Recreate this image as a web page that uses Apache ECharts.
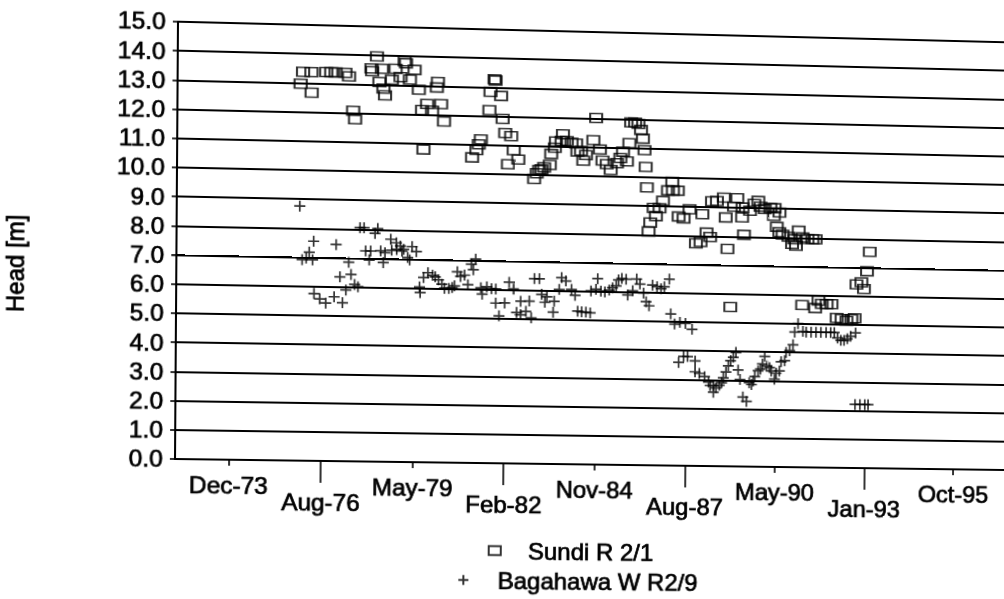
<!DOCTYPE html>
<html>
<head>
<meta charset="utf-8">
<script src="https://cdn.jsdelivr.net/npm/echarts@6/dist/echarts.min.js"></script>
<style>
  html, body { margin: 0; padding: 0; background: #fff; }
  #main { width: 1004px; height: 599px; transform-origin: 0 0; }
</style>
</head>
<body>
<div id="main"></div>
<script>
// Observation dates (decimal years) and heads [m] for well Sundi R 2/1
const sundiYear = [
  1975.98, 1976.05, 1976.30, 1976.31, 1976.74, 1976.89, 1977.02, 1977.31, 1977.42, 1977.55,
  1977.61, 1978.09, 1978.11, 1978.25, 1978.33, 1978.40, 1978.45, 1978.50, 1978.70, 1978.81,
  1978.96, 1979.08, 1979.12, 1979.24, 1979.38, 1979.51, 1979.61, 1979.66, 1979.76, 1979.91,
  1980.05, 1980.08, 1980.18, 1980.27, 1981.12, 1981.25, 1981.32, 1981.38, 1981.63, 1981.66,
  1981.78, 1981.81, 1981.98, 1982.03, 1982.11, 1982.20, 1982.29, 1982.37, 1982.51, 1982.99,
  1983.07, 1983.14, 1983.21, 1983.29, 1983.46, 1983.50, 1983.61, 1983.64, 1983.81, 1983.85,
  1983.97, 1984.11, 1984.25, 1984.29, 1984.40, 1984.47, 1984.55, 1984.77, 1984.85, 1984.97,
  1985.05, 1985.18, 1985.30, 1985.49, 1985.59, 1985.67, 1985.79, 1985.86, 1985.91, 1986.03,
  1986.13, 1986.21, 1986.27, 1986.32, 1986.36, 1986.40, 1986.46, 1986.51, 1986.61, 1986.68,
  1986.79, 1986.89, 1987.04, 1987.17, 1987.19, 1987.34, 1987.37, 1987.52, 1987.70, 1987.90,
  1988.04, 1988.09, 1988.22, 1988.33, 1988.38, 1988.53, 1988.74, 1988.80, 1988.86, 1988.96,
  1989.05, 1989.15, 1989.30, 1989.31, 1989.36, 1989.54, 1989.67, 1989.79, 1989.86, 1989.99,
  1990.16, 1990.27, 1990.29, 1990.36, 1990.44, 1990.44, 1990.54, 1990.72, 1990.83, 1990.90,
  1990.95, 1991.03, 1991.15, 1991.15, 1991.30, 1991.45, 1991.55, 1991.55, 1991.65, 1991.75,
  1991.90, 1992.05, 1992.21, 1992.36, 1992.51, 1992.66, 1992.76, 1992.81, 1992.96, 1993.04,
  1993.13, 1993.21
];
const sundiHead = [
  12.97, 13.38, 13.38, 12.67, 13.39, 13.39, 13.39, 13.38, 13.26, 12.08,
  11.79, 13.55, 13.46, 13.97, 13.09, 13.55, 12.87, 12.64, 13.18, 13.56,
  13.28, 13.83, 13.76, 13.20, 13.54, 12.86, 12.16, 10.80, 12.37, 12.15,
  12.95, 13.14, 12.38, 11.78, 10.56, 10.82, 11.02, 11.19, 12.21, 12.84,
  13.28, 13.24, 12.71, 11.92, 11.43, 10.35, 11.33, 10.84, 10.52, 9.86,
  10.06, 10.17, 10.20, 10.27, 10.36, 10.74, 10.96, 11.17, 11.20, 11.43,
  11.20, 11.15, 11.12, 10.84, 10.87, 10.53, 10.73, 11.25, 12.02, 10.93,
  10.55, 10.43, 10.23, 10.47, 10.65, 10.87, 10.54, 11.17, 11.89, 11.89,
  11.85, 11.64, 11.34, 10.94, 10.36, 9.65, 8.12, 8.43, 8.94, 8.66,
  8.94, 9.19, 9.56, 9.86, 9.56, 9.56, 8.66, 8.60, 8.92, 7.74,
  7.79, 8.76, 8.12, 7.97, 9.21, 9.23, 9.35, 8.66, 7.57, 5.55,
  9.04, 9.34, 8.67, 9.02, 8.07, 8.91, 9.15, 9.26, 9.06, 8.98,
  9.02, 8.75, 9.02, 8.37, 8.87, 8.18, 8.10, 8.03, 7.78, 7.95,
  7.72, 8.25, 8.02, 5.66, 7.96, 7.96, 7.96, 5.56, 5.82, 5.71,
  5.71, 5.71, 5.23, 5.20, 5.14, 5.20, 5.23, 6.41, 6.49, 6.26,
  6.88, 7.56
];

// Observation dates (decimal years) and heads [m] for well Bagahawa W R2/9
const bagaYear = [
  1975.98, 1976.06, 1976.18, 1976.27, 1976.37, 1976.40, 1976.42, 1976.59, 1976.77, 1977.02,
  1977.07, 1977.19, 1977.27, 1977.37, 1977.45, 1977.52, 1977.63, 1977.73, 1977.78, 1977.90,
  1977.95, 1978.06, 1978.10, 1978.23, 1978.31, 1978.40, 1978.48, 1978.53, 1978.70, 1978.73,
  1978.87, 1978.88, 1978.99, 1979.04, 1979.09, 1979.21, 1979.27, 1979.34, 1979.47, 1979.57,
  1979.59, 1979.69, 1979.82, 1979.96, 1980.04, 1980.14, 1980.24, 1980.32, 1980.45, 1980.55,
  1980.62, 1980.70, 1980.80, 1980.92, 1981.02, 1981.12, 1981.18, 1981.25, 1981.41, 1981.45,
  1981.59, 1981.73, 1981.86, 1981.86, 1981.96, 1982.13, 1982.26, 1982.39, 1982.49, 1982.61,
  1982.61, 1982.77, 1982.87, 1982.93, 1983.02, 1983.17, 1983.24, 1983.34, 1983.40, 1983.59,
  1983.62, 1983.77, 1983.84, 1983.97, 1984.14, 1984.25, 1984.33, 1984.45, 1984.58, 1984.71,
  1984.73, 1984.88, 1984.93, 1985.03, 1985.15, 1985.28, 1985.38, 1985.49, 1985.56, 1985.66,
  1985.79, 1985.84, 1985.99, 1986.11, 1986.21, 1986.32, 1986.40, 1986.49, 1986.59, 1986.73,
  1986.85, 1986.95, 1987.10, 1987.15, 1987.27, 1987.40, 1987.43, 1987.55, 1987.60, 1987.67,
  1987.80, 1987.90, 1987.90, 1988.03, 1988.19, 1988.31, 1988.36, 1988.46, 1988.46, 1988.54,
  1988.64, 1988.71, 1988.76, 1988.84, 1988.91, 1988.98, 1989.06, 1989.14, 1989.21, 1989.27,
  1989.36, 1989.47, 1989.55, 1989.62, 1989.67, 1989.72, 1989.82, 1989.89, 1989.95, 1990.02,
  1990.09, 1990.17, 1990.22, 1990.32, 1990.37, 1990.47, 1990.52, 1990.63, 1990.67, 1990.78,
  1990.88, 1990.93, 1991.03, 1991.18, 1991.28, 1991.43, 1991.58, 1991.73, 1991.89, 1992.03,
  1992.14, 1992.24, 1992.34, 1992.44, 1992.54, 1992.64, 1992.79, 1992.79, 1992.94, 1993.09,
  1993.19
];
const bagaHead = [
  8.76, 6.92, 6.98, 7.18, 6.92, 7.56, 5.76, 5.58, 5.44, 5.66,
  7.46, 6.35, 5.46, 5.90, 6.86, 6.44, 6.10, 6.02, 8.06, 8.06,
  7.26, 6.95, 7.26, 7.87, 8.04, 7.27, 6.87, 7.21, 7.68, 7.30,
  7.56, 7.33, 7.45, 7.28, 7.34, 7.06, 6.98, 7.44, 7.27, 6.05,
  5.86, 6.38, 6.55, 6.46, 6.41, 6.31, 6.16, 6.02, 6.02, 6.05,
  6.11, 6.60, 6.44, 6.49, 6.16, 6.87, 6.68, 7.05, 6.06, 5.84,
  6.10, 6.04, 6.03, 5.54, 5.10, 5.55, 6.27, 6.04, 5.23, 5.15,
  5.62, 5.27, 5.63, 5.05, 6.41, 6.41, 5.87, 5.60, 5.79, 5.26,
  5.64, 6.05, 6.46, 6.35, 6.06, 5.86, 5.31, 5.29, 5.28, 5.26,
  6.02, 6.08, 6.45, 6.02, 5.99, 6.06, 6.14, 6.21, 6.42, 6.47,
  6.45, 5.90, 6.05, 6.46, 6.29, 5.98, 5.68, 5.54, 6.26, 6.21,
  6.14, 6.21, 6.48, 5.27, 4.92, 3.59, 4.98, 3.80, 4.95, 3.80,
  4.75, 3.65, 3.27, 3.22, 3.11, 2.92, 2.80, 2.80, 2.57, 2.73,
  2.82, 2.91, 3.08, 3.28, 3.50, 3.68, 3.80, 3.97, 3.36, 3.03,
  2.42, 2.27, 2.92, 2.86, 2.98, 3.14, 3.34, 3.40, 3.58, 3.85,
  3.52, 3.46, 3.34, 3.06, 3.27, 3.35, 3.67, 3.71, 4.00, 4.06,
  4.27, 4.71, 5.01, 4.74, 4.72, 4.72, 4.72, 4.72, 4.72, 4.72,
  4.72, 4.53, 4.45, 4.45, 4.51, 4.60, 4.72, 2.22, 2.22, 2.22,
  2.22
];

// Date axis: ticks every 1000 days
const tickDates = ['1973-12-02', '1976-08-28', '1979-05-25', '1982-02-18', '1984-11-14',
                   '1987-08-11', '1990-05-07', '1993-01-31', '1995-10-28'];
const tickLabels = ['Dec-73', 'Aug-76', 'May-79', 'Feb-82', 'Nov-84',
                    'Aug-87', 'May-90', 'Jan-93', 'Oct-95'];

const SERIES_NAMES = ['Sundi R 2/1', 'Bagahawa W R2/9'];
const FONT = 'Liberation Sans, Arial, Helvetica, sans-serif';
const INK = '#000';

function decYear(s) {
  const [y, m, d] = s.split('-').map(Number);
  const t0 = Date.UTC(y, 0, 1), t1 = Date.UTC(y + 1, 0, 1);
  return y + (Date.UTC(y, m - 1, d) - t0) / (t1 - t0);
}
const tickYears = tickDates.map(decYear);
const upperTicks = tickYears.filter((_, i) => i % 2 === 0);
const lowerTicks = tickYears.filter((_, i) => i % 2 === 1);
function labelFor(v) {
  let best = 0;
  tickYears.forEach((t, i) => { if (Math.abs(t - v) < Math.abs(tickYears[best] - v)) best = i; });
  return tickLabels[best];
}

// the date axis runs off the right edge of the page
const X_MIN = 1972.33, X_MAX = 1997.39;

const labelStyle = {
  fontSize: 24, color: INK, fontFamily: FONT,
  textBorderColor: INK, textBorderWidth: 0.7
};
const axisLine = { show: true, lineStyle: { color: INK, width: 2 } };
const tickLine = { color: INK, width: 1.6 };

const option = {
  animation: false,
  backgroundColor: '#fff',
  textStyle: { fontFamily: FONT },
  grid: { left: 175, top: 22, right: 0, height: 438, containLabel: false },
  xAxis: [
    {
      type: 'value', min: X_MIN, max: X_MAX, position: 'bottom',
      axisLine: axisLine,
      splitLine: { show: false },
      axisTick: { show: true, customValues: upperTicks, length: 6, lineStyle: tickLine },
      axisLabel: Object.assign({ customValues: upperTicks, margin: 14, formatter: labelFor }, labelStyle)
    },
    {
      type: 'value', min: X_MIN, max: X_MAX, position: 'bottom',
      axisLine: { show: false },
      splitLine: { show: false },
      axisTick: { show: true, customValues: lowerTicks, length: 22, lineStyle: tickLine },
      axisLabel: Object.assign({ customValues: lowerTicks, margin: 30, formatter: labelFor }, labelStyle)
    }
  ],
  yAxis: {
    type: 'value', min: 0, max: 15, interval: 1,
    axisLine: axisLine,
    axisTick: { show: true, length: 5, lineStyle: tickLine },
    axisLabel: Object.assign({ margin: 12, formatter: v => v.toFixed(1) }, labelStyle),
    splitLine: { show: true, lineStyle: { color: INK, width: 2 } }
  },
  legend: [
    {
      data: [SERIES_NAMES[0]], orient: 'vertical', left: 484, top: 536, padding: 0,
      itemWidth: 12, itemHeight: 9,
      textStyle: Object.assign({ padding: [0, 0, 0, 22] }, labelStyle)
    },
    {
      data: [SERIES_NAMES[1]], orient: 'vertical', left: 454, top: 566, padding: 0,
      itemWidth: 10, itemHeight: 10,
      textStyle: Object.assign({ padding: [0, 0, 0, 24] }, labelStyle)
    }
  ],
  graphic: [{
    type: 'text', x: 18, y: 267, rotation: Math.PI / 2,
    style: {
      text: 'Head [m]', fontSize: 24, fontFamily: FONT, fill: INK,
      stroke: INK, lineWidth: 0.7, align: 'center', verticalAlign: 'middle'
    }
  }],
  series: [
    {
      name: SERIES_NAMES[0], type: 'scatter', xAxisIndex: 0,
      data: sundiYear.map((t, i) => [t, sundiHead[i]]),
      symbol: 'rect', symbolSize: [12, 9],
      itemStyle: { color: 'rgba(0,0,0,0)', borderColor: INK, borderWidth: 1.8 },
      z: 3
    },
    {
      name: SERIES_NAMES[1], type: 'scatter', xAxisIndex: 0,
      data: bagaYear.map((t, i) => [t, bagaHead[i]]),
      symbol: 'path://M0,5H10M5,0V10', symbolSize: 11,
      itemStyle: { color: 'rgba(0,0,0,0)', borderColor: INK, borderWidth: 1.7 },
      z: 4
    }
  ]
};

const el = document.getElementById('main');
const chart = echarts.init(el, null, { renderer: 'svg' });
chart.setOption(option);

// The printed figure sits with a slight keystone tilt: map the plot corners
// onto a gently skewed quadrilateral with a projective transform.
function homography(src, dst) {
  const A = [], b = [];
  for (let i = 0; i < 4; i++) {
    const [x, y] = src[i], [u, v] = dst[i];
    A.push([x, y, 1, 0, 0, 0, -u * x, -u * y]); b.push(u);
    A.push([0, 0, 0, x, y, 1, -v * x, -v * y]); b.push(v);
  }
  const n = 8;
  for (let c = 0; c < n; c++) {
    let p = c;
    for (let r = c + 1; r < n; r++) if (Math.abs(A[r][c]) > Math.abs(A[p][c])) p = r;
    [A[c], A[p]] = [A[p], A[c]]; [b[c], b[p]] = [b[p], b[c]];
    for (let r = c + 1; r < n; r++) {
      const f = A[r][c] / A[c][c];
      for (let k = c; k < n; k++) A[r][k] -= f * A[c][k];
      b[r] -= f * b[c];
    }
  }
  const h = new Array(n);
  for (let r = n - 1; r >= 0; r--) {
    let s = b[r];
    for (let k = r + 1; k < n; k++) s -= A[r][k] * h[k];
    h[r] = s / A[r][r];
  }
  return h;
}
const [ha, hb, hc, hd, he, hf, hg, hh] = homography(
  [[175, 22], [175, 460], [1004, 22], [1004, 460]],
  [[178, 21.7], [175, 459], [1007, 42.3], [1004, 470]]
);
el.style.transform = `matrix3d(${ha},${hd},0,${hg},${hb},${he},0,${hh},0,0,1,0,${hc},${hf},0,1)`;
</script>
</body>
</html>
